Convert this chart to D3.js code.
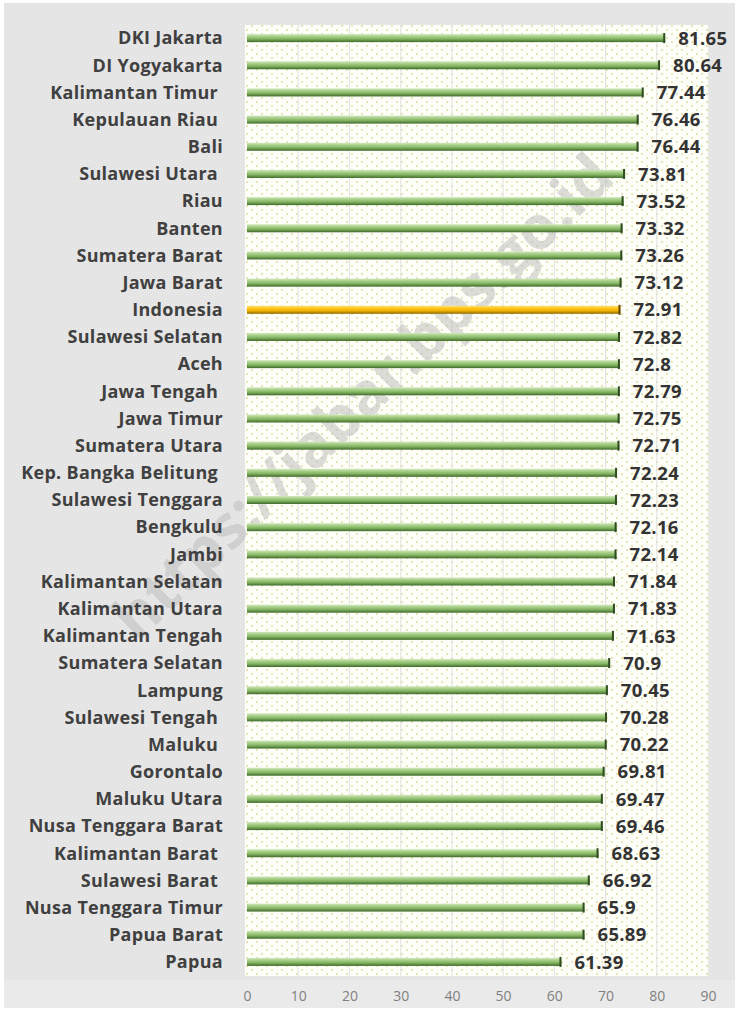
<!DOCTYPE html>
<html>
<head>
<meta charset="utf-8">
<script src="https://cdn.jsdelivr.net/npm/d3@7"></script>
<style>
  body { margin: 0; background: #fff; }
  .prov-label { font-family: "Open Sans", sans-serif; font-weight: 700; font-size: 18px; letter-spacing: 0.3px; fill: #404040; white-space: pre; }
  .value-label { font-family: "Open Sans", sans-serif; font-weight: 700; font-size: 18.5px; letter-spacing: 0.3px; fill: #333; }
  .x.axis text { font-family: "Open Sans", sans-serif; font-size: 14px; fill: #808080; }
  .x.axis path, .x.axis line { display: none; }
</style>
</head>
<body>
<script>
// provinces, top to bottom (trailing spaces kept as in the source)
const provinces = ["DKI Jakarta", "DI Yogyakarta", "Kalimantan Timur ", "Kepulauan Riau ", "Bali",
  "Sulawesi Utara ", "Riau", "Banten", "Sumatera Barat", "Jawa Barat", "Indonesia",
  "Sulawesi Selatan", "Aceh", "Jawa Tengah ", "Jawa Timur", "Sumatera Utara",
  "Kep. Bangka Belitung ", "Sulawesi Tenggara", "Bengkulu", "Jambi", "Kalimantan Selatan",
  "Kalimantan Utara", "Kalimantan Tengah", "Sumatera Selatan", "Lampung", "Sulawesi Tengah ",
  "Maluku ", "Gorontalo", "Maluku Utara", "Nusa Tenggara Barat", "Kalimantan Barat ",
  "Sulawesi Barat ", "Nusa Tenggara Timur", "Papua Barat", "Papua"];
const values = [81.65, 80.64, 77.44, 76.46, 76.44, 73.81, 73.52, 73.32, 73.26, 73.12, 72.91,
  72.82, 72.8, 72.79, 72.75, 72.71, 72.24, 72.23, 72.16, 72.14, 71.84, 71.83, 71.63,
  70.9, 70.45, 70.28, 70.22, 69.81, 69.47, 69.46, 68.63, 66.92, 65.9, 65.89, 61.39];
const xTicks = [0, 10, 20, 30, 40, 50, 60, 70, 80, 90];
const highlight = "Indonesia";

const width = 737, height = 1011;
const margin = {top: 25, right: 29, bottom: 35, left: 247};

const data = provinces.map((p, i) => ({name: p, value: values[i]}));

const svg = d3.select("body").append("svg")
  .attr("width", width)
  .attr("height", height);

const defs = svg.append("defs");

// grainy grey backdrop
const noise = defs.append("pattern")
  .attr("id", "bgTex").attr("width", 4).attr("height", 4)
  .attr("patternUnits", "userSpaceOnUse");
noise.append("rect").attr("width", 4).attr("height", 4).attr("fill", "#e4e4e4");
noise.append("rect").attr("x", 0).attr("y", 0).attr("width", 1).attr("height", 1).attr("fill", "#ededed");
noise.append("rect").attr("x", 2).attr("y", 2).attr("width", 1).attr("height", 1).attr("fill", "#ededed");

// dotted plot area
const dots = defs.append("pattern")
  .attr("id", "dots").attr("width", 10).attr("height", 8)
  .attr("patternUnits", "userSpaceOnUse");
dots.append("rect").attr("width", 10).attr("height", 8).attr("fill", "#fefef8");
dots.append("circle").attr("cx", 2).attr("cy", 2).attr("r", 0.8).attr("fill", "#cbc46c");
dots.append("circle").attr("cx", 7).attr("cy", 6).attr("r", 0.8).attr("fill", "#cbc46c");

function barGrad(id, stops) {
  const g = defs.append("linearGradient").attr("id", id)
    .attr("x1", 0).attr("y1", 0).attr("x2", 0).attr("y2", 1);
  stops.forEach(s => g.append("stop").attr("offset", s[0]).attr("stop-color", s[1]));
}
barGrad("greenBar", [[0, "#d2e8c0"], [0.3, "#a6cf86"], [0.6, "#84b463"], [1, "#3f6a2a"]]);
barGrad("goldBar", [[0, "#ffe07a"], [0.3, "#ffc61a"], [0.6, "#f0b400"], [1, "#8f6a00"]]);

svg.append("rect").attr("x", 4).attr("y", 3).attr("width", width - 6).attr("height", 977)
  .attr("fill", "url(#bgTex)");
svg.append("rect").attr("x", 4).attr("y", 980).attr("width", width - 6).attr("height", 28)
  .attr("fill", "#eaeaea");

const x = d3.scaleLinear().domain([0, 90]).range([margin.left, 708]);
const y = d3.scaleBand().domain(provinces).range([margin.top, height - margin.bottom]).padding(0);

// plot area
svg.append("rect")
  .attr("x", margin.left - 2).attr("y", margin.top)
  .attr("width", width - margin.right - margin.left + 2)
  .attr("height", height - margin.bottom - margin.top)
  .attr("fill", "url(#dots)");

// vertical gridlines
svg.append("g").selectAll("line")
  .data(xTicks.slice(1, -1))
  .enter().append("line")
  .attr("x1", d => x(d)).attr("x2", d => x(d))
  .attr("y1", margin.top).attr("y2", height - margin.bottom)
  .attr("stroke", "#e2e2e2").attr("stroke-width", 1);

// watermark
svg.append("text")
  .attr("transform", "translate(366,400)rotate(-44)")
  .attr("text-anchor", "middle")
  .attr("dominant-baseline", "middle")
  .style("font-family", "'Open Sans', sans-serif")
  .style("font-weight", 700)
  .style("font-size", "60px")
  .attr("fill", "#bdbdbd").attr("fill-opacity", 0.55)
  .text("https://jabar.bps.go.id");

const barH = 8;
const rows = svg.append("g").selectAll(".row")
  .data(data)
  .enter().append("g")
  .attr("class", "row")
  .attr("transform", d => `translate(0,${y(d.name) + y.bandwidth() / 2 - 0.5})`);

rows.append("rect")
  .attr("x", x(0))
  .attr("y", -barH / 2)
  .attr("width", d => x(d.value) - x(0))
  .attr("height", barH)
  .attr("fill", d => d.name === highlight ? "url(#goldBar)" : "url(#greenBar)");

// darker end caps
rows.append("rect")
  .attr("x", d => x(d.value) - 2)
  .attr("y", -barH / 2 - 1)
  .attr("width", 2)
  .attr("height", barH + 2)
  .attr("fill", d => d.name === highlight ? "#5f4800" : "#2f4d20");

rows.append("text")
  .attr("class", "prov-label")
  .attr("x", 223)
  .attr("y", 0)
  .attr("dy", "0.35em")
  .attr("text-anchor", "end")
  .attr("xml:space", "preserve")
  .text(d => d.name);

rows.append("text")
  .attr("class", "value-label")
  .attr("x", d => x(d.value) + 13)
  .attr("y", 0)
  .attr("dy", "0.36em")
  .text(d => d.value);

// x axis
svg.append("g")
  .attr("class", "x axis")
  .attr("transform", `translate(0,${height - margin.bottom + 7})`)
  .call(d3.axisBottom(x).tickValues(xTicks).tickSize(0).tickPadding(8));
</script>
</body>
</html>
